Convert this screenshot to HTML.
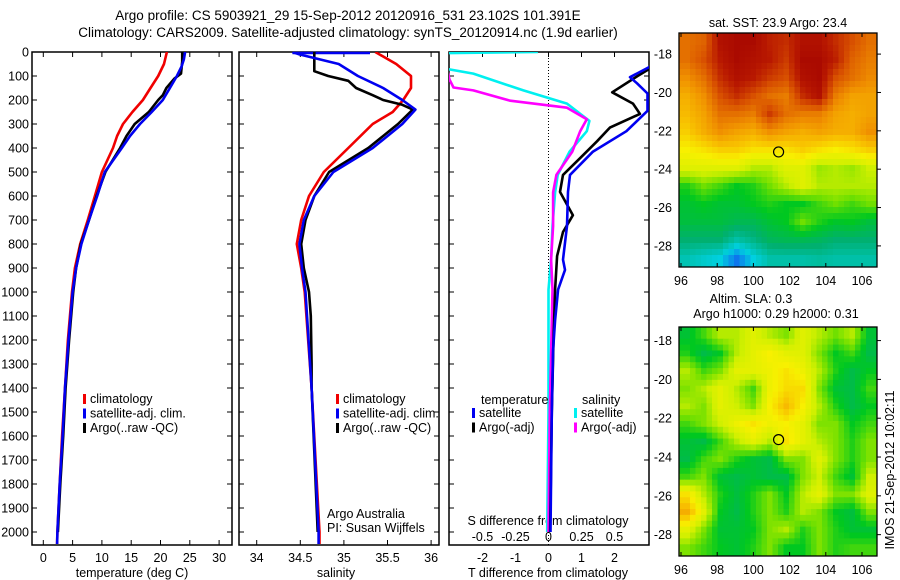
<!DOCTYPE html>
<html><head><meta charset="utf-8">
<style>
html,body{margin:0;padding:0;background:#fff;}
svg{display:block;font-family:"Liberation Sans",sans-serif;}
text{font-size:12.5px;fill:#000;}
</style></head>
<body>
<svg id="chart" width="900" height="580" viewBox="0 0 900 580" xmlns="http://www.w3.org/2000/svg">
<text x="348" y="20" text-anchor="middle" style="font-size:13.5px">Argo profile: CS 5903921_29 15-Sep-2012 20120916_531 23.102S 101.391E</text>
<text x="348" y="37" text-anchor="middle" style="font-size:13.5px">Climatology: CARS2009. Satellite-adjusted climatology: synTS_20120914.nc (1.9d earlier)</text>
<g id="plots"></g>
</svg>
<script>
// ---------- data ----------
const depthTicks = [0,100,200,300,400,500,600,700,800,900,1000,1100,1200,1300,1400,1500,1600,1700,1800,1900,2000];
const tempTicks = [0,5,10,15,20,25,30];
const salTicks = [34,34.5,35,35.5,36];
const salTickLabels = ["34","34.5","35","35.5","36"];
const tdiffTicks = [-2,-1,0,1,2];
const sdiffTicks = [-0.5,-0.25,0,0.25,0.5];
const sdiffTickLabels = ["-0.5","-0.25","0","0.25","0.5"];

const tClimDepth = [0,50,100,150,200,250,300,350,400,500,600,700,800,900,1000,1200,1400,1600,1800,2000,2050];
const tClimVal   = [21.1,20.6,19.6,18.3,17.0,15.2,13.6,12.6,11.9,10.0,8.8,7.6,6.3,5.4,4.9,4.2,3.7,3.2,2.8,2.4,2.35];
const tSatDepth  = [0,30,60,100,150,200,250,300,350,400,500,600,700,800,900,1000,1200,1400,1600,1800,2000,2050];
const tSatVal    = [24.2,24.0,23.6,22.8,21.6,20.4,18.5,16.5,14.8,13.4,10.5,9.2,7.8,6.5,5.6,5.0,4.3,3.7,3.3,2.8,2.4,2.35];
const tArgoDepth = [0,40,90,110,150,180,200,250,300,350,400,500,600,700,800,900,1000,1200,1400,1600,1800,2000];
const tArgoVal   = [23.7,23.7,23.5,22.4,21.0,20.4,19.6,18.0,15.6,14.2,13.1,10.6,9.1,7.8,6.4,5.6,5.1,4.4,3.8,3.4,2.9,2.5];

const sClimDepth = [0,50,100,150,200,250,300,400,500,600,700,800,900,1000,1400,2000,2050];
const sClimVal   = [35.36,35.6,35.77,35.77,35.68,35.56,35.33,35.05,34.77,34.6,34.51,34.46,34.51,34.55,34.63,34.72,34.72];
const sSatDepth  = [0,10,50,100,150,200,240,300,400,500,600,700,800,900,1000,1400,2000,2050];
const sSatVal    = [34.41,34.49,34.94,35.16,35.45,35.67,35.82,35.67,35.33,34.88,34.66,34.54,34.49,34.52,34.56,34.63,34.71,34.71];
const sArgoDepth = [0,80,100,120,150,180,200,220,240,300,400,500,600,700,800,900,1000,1100,1300,1400,2000];
const sArgoVal   = [34.66,34.66,34.82,35.05,35.14,35.33,35.45,35.67,35.79,35.62,35.28,34.83,34.66,34.56,34.51,34.54,34.6,34.62,34.63,34.63,34.7];

const dtSatDepth = [0,63,105,130,173,245,330,415,512,583,725,865,908,990,1117,1240,1500,2000];
const dtSatVal   = [3.5,3.05,2.47,2.68,3.0,3.0,2.36,1.35,0.65,0.59,0.56,0.44,0.5,0.29,0.2,0.14,0.1,0.06];
const dtArgoDepth = [0,35,75,100,168,215,258,315,372,443,512,583,680,750,850,990,1200,1500,2000];
const dtArgoVal   = [3.1,3.2,3.0,2.7,1.93,2.56,2.77,1.86,1.47,0.95,0.44,0.35,0.74,0.44,0.26,0.2,0.15,0.1,0.05];
const dsSatDepth = [0,5,68,90,160,215,287,330,415,512,585,725,865,990,1500,2000];
const dsSatVal   = [-0.08,-0.8,-0.8,-0.57,-0.19,0.14,0.31,0.29,0.16,0.07,0.05,0.03,0.02,0,0,-0.01];
const dsArgoDepth = [0,115,148,160,203,232,280,330,415,512,585,725,865,990,1500,2000];
const dsArgoVal   = [-0.8,-0.75,-0.72,-0.57,-0.29,0.14,0.29,0.24,0.18,0.06,0.035,0.035,0.02,0.03,0.01,0];

const mapLonTicks = [96,98,100,102,104,106];
const sstLatTicks = [-18,-20,-22,-24,-26,-28];
const slaLatTicks = [-18,-20,-22,-24,-26,-28];
const sstGrid = [
[.8,.82,.95,.97,.97,.92,.9,.95,.95,.9,.85,.8],
[.8,.85,.93,.97,.95,.93,.88,.97,.97,.92,.82,.78],
[.75,.8,.9,.95,.93,.88,.85,.95,.97,.85,.8,.76],
[.7,.75,.85,.9,.85,.8,.78,.9,.95,.78,.72,.72],
[.68,.72,.8,.8,.78,.88,.8,.78,.78,.72,.7,.72],
[.65,.7,.75,.72,.7,.75,.72,.7,.72,.7,.7,.75],
[.6,.62,.65,.65,.62,.62,.62,.65,.62,.6,.62,.65],
[.55,.55,.55,.55,.5,.5,.55,.55,.48,.5,.48,.52],
[.4,.45,.42,.38,.4,.45,.5,.55,.5,.5,.5,.5],
[.36,.38,.36,.36,.38,.4,.38,.38,.42,.45,.42,.45],
[.35,.35,.35,.33,.33,.36,.38,.45,.4,.37,.38,.35],
[.3,.3,.3,.25,.28,.32,.33,.33,.32,.3,.3,.3],
[.24,.22,.2,.12,.2,.25,.25,.25,.26,.25,.25,.25]];
const slaGrid = [
[.36,.42,.5,.5,.55,.5,.46,.55,.5,.45,.5,.36],
[.4,.34,.38,.5,.56,.6,.56,.55,.46,.38,.42,.34],
[.5,.42,.46,.56,.56,.58,.62,.58,.5,.4,.34,.38],
[.46,.5,.56,.5,.42,.58,.63,.63,.46,.36,.34,.42],
[.5,.46,.56,.52,.46,.6,.68,.6,.5,.4,.34,.38],
[.42,.46,.52,.58,.62,.58,.6,.56,.46,.46,.38,.42],
[.36,.34,.42,.5,.56,.5,.62,.56,.5,.46,.4,.46],
[.34,.42,.46,.4,.36,.34,.46,.46,.55,.46,.4,.46],
[.42,.46,.36,.34,.36,.34,.34,.46,.52,.42,.36,.52],
[.62,.5,.4,.35,.4,.46,.38,.5,.56,.46,.46,.55],
[.7,.56,.38,.34,.4,.46,.4,.5,.46,.38,.35,.46],
[.56,.46,.36,.36,.38,.46,.5,.4,.46,.4,.36,.36],
[.46,.42,.38,.36,.4,.46,.38,.38,.46,.4,.42,.42]];
const argoLon = 101.391, argoLat = -23.102;

// ---------- helpers ----------
const NS = "http://www.w3.org/2000/svg";
const root = document.getElementById('plots');
function mk(tag, attrs, parent){const e=document.createElementNS(NS,tag);for(const k in attrs)e.setAttribute(k,attrs[k]);(parent||root).appendChild(e);return e;}
function txt(x,y,s,anchor,parent){const t=mk('text',{x:x,y:y,'text-anchor':anchor||'start'},parent);t.textContent=s;return t;}

const yTop=52, yScale=0.24, yBot=545;
const yD = d => yTop + d*yScale;
const xT = v => 43.3 + v*5.86;
const xS = v => 256.7 + (v-34)*87.2;
const xDT = v => 548.5 + v*33;
const xDS = v => 548.5 + v*132;

function frame(x0,x1,name){
  const f=mk('rect',{x:x0,y:yTop,width:x1-x0,height:yBot-yTop,fill:'none',stroke:'#000','stroke-width':1.5});
  
  
  for(const d of depthTicks){
    mk('line',{x1:x0,x2:x0+5,y1:yD(d),y2:yD(d),stroke:'#000'});
    mk('line',{x1:x1-5,x2:x1,y1:yD(d),y2:yD(d),stroke:'#000'});
  }
}
function clip(id,x0,x1){const cp=mk('clipPath',{id:id});mk('rect',{x:x0,y:yTop,width:x1-x0,height:yBot-yTop},cp);}
function line(ds,vs,xf,color,name,clipId){
  const pts=ds.map((d,i)=>xf(vs[i]).toFixed(1)+','+yD(d).toFixed(1)).join(' ');
  const p=mk('polyline',{points:pts,fill:'none',stroke:color,'stroke-width':2.6,'stroke-linejoin':'round','clip-path':'url(#'+clipId+')'});
  
  
}
function legend(x,y,items,groupName){
  const g=mk('g',{});
  
  
  items.forEach((it,i)=>{
    const e=mk('g',{},g);
    
    
    mk('rect',{x:x,y:y+i*14.5-9,width:3,height:10,fill:it[0]},e);
    txt(x+7,y+i*14.5,it[1],'start',e);
  });
}

// ---------- depth labels ----------
for(const d of depthTicks){const t=txt(29,yD(d)+4.5,String(d),'end');}

// ---------- panel 1: temperature ----------
clip('c1',32,232);frame(32,232,'temperature-panel');
for(const v of tempTicks){mk('line',{x1:xT(v),x2:xT(v),y1:yTop,y2:yTop+5,stroke:'#000'});mk('line',{x1:xT(v),x2:xT(v),y1:yBot-5,y2:yBot,stroke:'#000'});const t=txt(xT(v),562,String(v),'middle');}
{const t=txt(132,577,'temperature (deg C)','middle');}
line(tClimDepth,tClimVal,xT,'#f00000','temperature-climatology-line','c1');
line(tArgoDepth,tArgoVal,xT,'#000000','temperature-argo-line','c1');
line(tSatDepth,tSatVal,xT,'#0000f0','temperature-satellite-line','c1');
legend(83,403,[['#f00000','climatology','climatology'],['#0000f0','satellite-adj. clim.','satellite'],['#000','Argo(..raw -QC)','argo']],'temperature-legend');

// ---------- panel 2: salinity ----------
clip('c2',239,439);frame(239,439,'salinity-panel');
salTicks.forEach((v,i)=>{mk('line',{x1:xS(v),x2:xS(v),y1:yTop,y2:yTop+5,stroke:'#000'});mk('line',{x1:xS(v),x2:xS(v),y1:yBot-5,y2:yBot,stroke:'#000'});const t=txt(xS(v),562,salTickLabels[i],'middle');});
{const t=txt(336,577,'salinity','middle');}
mk('line',{x1:xS(34.41),x2:370,y1:yTop+1,y2:yTop+1,stroke:'#0000f0','stroke-width':2.5});
line(sClimDepth,sClimVal,xS,'#f00000','salinity-climatology-line','c2');
line(sArgoDepth,sArgoVal,xS,'#000000','salinity-argo-line','c2');
line(sSatDepth,sSatVal,xS,'#0000f0','salinity-satellite-line','c2');
legend(336,403,[['#f00000','climatology','climatology'],['#0000f0','satellite-adj. clim.','satellite'],['#000','Argo(..raw -QC)','argo']],'salinity-legend');
{const t=txt(327,518,'Argo Australia');}
{const t=txt(327,532,'PI: Susan Wijffels');}

// ---------- panel 3: differences ----------
clip('c3',449,649);frame(449,649,'difference-panel');
mk('line',{x1:548.5,x2:548.5,y1:yTop,y2:yBot,stroke:'#000','stroke-dasharray':'1,2'});
for(const v of tdiffTicks){mk('line',{x1:xDT(v),x2:xDT(v),y1:yTop,y2:yTop+5,stroke:'#000'});const t=txt(xDT(v),562,String(v),'middle');}
sdiffTicks.forEach((v,i)=>{const t=txt(xDS(v),541,sdiffTickLabels[i],'middle');});
{const t=txt(548,577,'T difference from climatology','middle');}
{const t=txt(548,525,'S difference from climatology','middle');}
line(dsSatDepth,dsSatVal,xDS,'#00f0f0','s-diff-satellite-line','c3');
line(dsArgoDepth,dsArgoVal,xDS,'#ff00ff','s-diff-argo-line','c3');
line(dtArgoDepth,dtArgoVal,xDT,'#000000','t-diff-argo-line','c3');
line(dtSatDepth,dtSatVal,xDT,'#0000f0','t-diff-satellite-line','c3');
{const t=txt(481,404,'temperature');}
{const t=txt(582,404,'salinity');}
legend(472,417,[['#0000f0','satellite','t-satellite'],['#000','Argo(-adj)','t-argo']],'t-diff-legend');
legend(574,417,[['#00f0f0','satellite','s-satellite'],['#ff00ff','Argo(-adj)','s-argo']],'s-diff-legend');

// ---------- maps ----------
const stops=[[0.1,[16,96,240]],[0.2,[0,208,224]],[0.3,[0,176,112]],[0.38,[0,200,32]],[0.45,[112,224,0]],[0.52,[208,240,0]],[0.6,[248,240,0]],[0.67,[248,192,0]],[0.75,[240,144,0]],[0.85,[216,80,0]],[0.93,[184,24,0]],[1,[160,0,0]]];
function cmap(v){if(v<=stops[0][0])return 'rgb('+stops[0][1]+')';for(let i=1;i<stops.length;i++){if(v<=stops[i][0]){const a=stops[i-1],b=stops[i],t=(v-a[0])/(b[0]-a[0]);return 'rgb('+a[1].map((c,k)=>Math.round(c+(b[1][k]-c)*t)).join(',')+')';}}return 'rgb(160,0,0)';}
function sample(grid,fy,fx){
  const rows=grid.length, cols=grid[0].length;
  fy=Math.max(0,Math.min(rows-1,fy)); fx=Math.max(0,Math.min(cols-1,fx));
  const i0=Math.floor(fy), j0=Math.floor(fx), i1=Math.min(rows-1,i0+1), j1=Math.min(cols-1,j0+1);
  const ty=fy-i0, tx=fx-j0;
  const a=grid[i0][j0]*(1-tx)+grid[i0][j1]*tx, b=grid[i1][j0]*(1-tx)+grid[i1][j1]*tx;
  return a*(1-ty)+b*ty;
}
function map(grid,x0,y0,x1,y1,latTop,latBot,latTicks,name){
  const g=mk('g',{});
  
  
  const rows=grid.length, cols=grid[0].length, sub=3;
  const R=rows*sub, C=cols*sub, cw=(x1-x0)/C, ch=(y1-y0)/R;
  for(let i=0;i<R;i++)for(let j=0;j<C;j++){
    const v=sample(grid,(i+0.5)/sub-0.5,(j+0.5)/sub-0.5);
    const c=mk('rect',{x:(x0+j*cw).toFixed(2),y:(y0+i*ch).toFixed(2),width:(cw+0.5).toFixed(2),height:(ch+0.5).toFixed(2),fill:cmap(v)},g);
    
    
  }
  mk('rect',{x:x0,y:y0,width:x1-x0,height:y1-y0,fill:'none',stroke:'#000','stroke-width':1.3},g);
  const lonX = l => 681 + (l-96)*18.1;
  const latY = l => y0 + (latTop-l)/(latTop-latBot)*(y1-y0);
  for(const l of mapLonTicks){mk('line',{x1:lonX(l),x2:lonX(l),y1:y0,y2:y0+4,stroke:'#000'},g);mk('line',{x1:lonX(l),x2:lonX(l),y1:y1-4,y2:y1,stroke:'#000'},g);const t=txt(lonX(l),y1+18,String(l),'middle',g);}
  for(const l of latTicks){mk('line',{x1:x1,x2:x1+4,y1:latY(l),y2:latY(l),stroke:'#000'},g);const t=txt(672,latY(l)+4.5,String(l),'end',g);}
  const m=mk('circle',{cx:lonX(argoLon),cy:latY(argoLat),r:5,fill:'none',stroke:'#000','stroke-width':1.2},g);
  
  
}
map(sstGrid,679,33,877,267,-16.9,-29.1,sstLatTicks,'sst-map');
map(slaGrid,679,327,877,556,-17.3,-29.1,slaLatTicks,'sla-map');
{const t=txt(778,27,'sat. SST: 23.9 Argo: 23.4','middle');}
{const t=txt(751,303,'Altim. SLA: 0.3','middle');}
{const t=txt(776,318,'Argo h1000: 0.29 h2000: 0.31','middle');}
{const t=txt(0,0,'IMOS 21-Sep-2012 10:02:11','middle');t.setAttribute('transform','translate(894,470) rotate(-90)');}
</script>
</body></html>
